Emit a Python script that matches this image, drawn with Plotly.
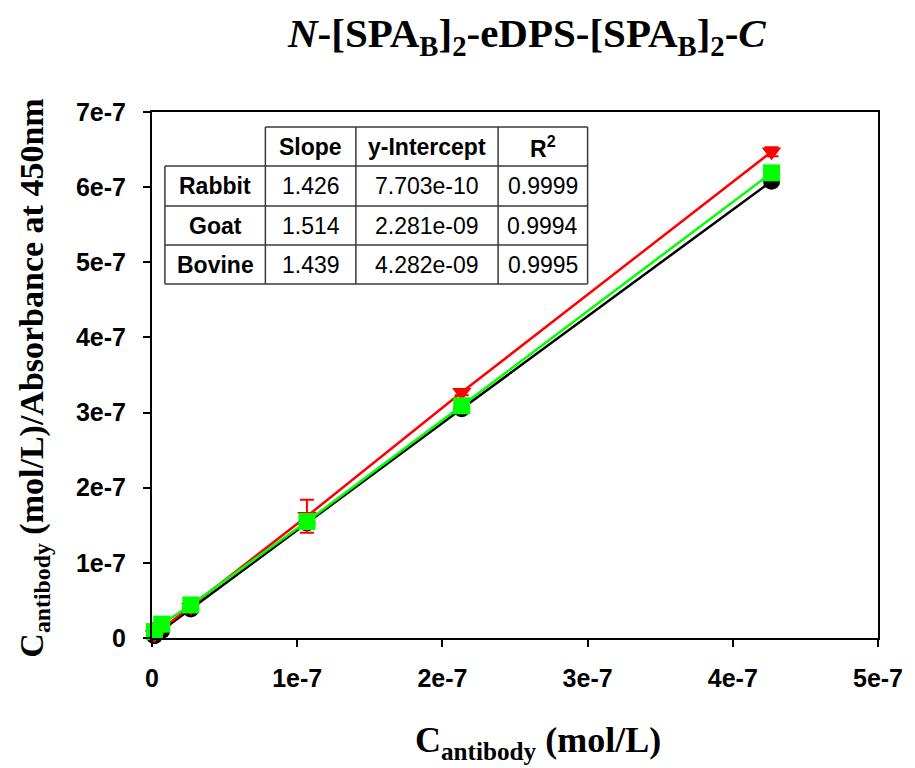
import plotly.graph_objects as go

# ---------------- data ----------------
conc = [1.67e-9, 6.67e-9, 2.67e-8, 1.067e-7, 2.133e-7, 4.267e-7]
rabbit = [3.0e-9, 1.0e-8, 3.85e-8, 1.53e-7, 3.05e-7, 6.08e-7]
goat = [4.5e-9, 1.2e-8, 4.1e-8, 1.62e-7, 3.27e-7, 6.47e-7]
goat_err = [1.5e-8, 3e-9, 3e-9, 2.2e-8, 4e-9, 6e-9]
bovine = [8.5e-9, 1.85e-8, 4.4e-8, 1.55e-7, 3.09e-7, 6.19e-7]

x_ticks = [0, 1e-7, 2e-7, 3e-7, 4e-7, 5e-7]
x_ticktext = ["0", "1e-7", "2e-7", "3e-7", "4e-7", "5e-7"]
y_ticks = [0, 1e-7, 2e-7, 3e-7, 4e-7, 5e-7, 6e-7, 7e-7]
y_ticktext = ["0", "1e-7", "2e-7", "3e-7", "4e-7", "5e-7", "6e-7", "7e-7"]

table_header = ["Slope", "y-Intercept", "R<sup>2</sup>"]
table_rows = ["Rabbit", "Goat", "Bovine"]
slopes = ["1.426", "1.514", "1.439"]
intercepts = ["7.703e-10", "2.281e-09", "4.282e-09"]
r_squared = ["0.9999", "0.9994", "0.9995"]

# ---------------- layout geometry (reference pixel coords) ----------------
OFF = 8  # page body margin
W, H = 915 - OFF, 768 - OFF
L, R, T, B = 152, 882, 112, 638


def px(x):
    return (x - L) / (R - L)


def py(y):
    return (B - y) / (B - T)


fig = go.Figure()

fig.add_trace(go.Scatter(
    x=conc, y=rabbit, mode="lines+markers", name="Rabbit",
    line=dict(color="#000000", width=2.5),
    marker=dict(symbol="circle", size=17, color="#000000"),
    cliponaxis=False,
))
fig.add_trace(go.Scatter(
    x=conc, y=goat, mode="lines+markers", name="Goat",
    line=dict(color="#FF0000", width=2.5),
    marker=dict(symbol="triangle-down", size=17, color="#FF0000"),
    error_y=dict(type="data", array=goat_err, visible=True,
                 color="#FF0000", thickness=2, width=7),
    cliponaxis=False,
))
fig.add_trace(go.Scatter(
    x=conc, y=bovine, mode="lines+markers", name="Bovine",
    line=dict(color="#00FF00", width=2.5),
    marker=dict(symbol="square", size=17, color="#00FF00"),
    cliponaxis=False,
))

# ---------------- table ----------------
col_edges = [165, 266, 357, 500, 590]
row_edges = [127, 166, 206, 245, 284]
line_style = dict(color="#3a3a3a", width=1.5)
shapes = []
shapes.append(dict(type="line", xref="paper", yref="paper",
                   x0=px(col_edges[1]), x1=px(col_edges[-1]),
                   y0=py(row_edges[0]), y1=py(row_edges[0]), line=line_style))
for ry in row_edges[1:]:
    shapes.append(dict(type="line", xref="paper", yref="paper",
                       x0=px(col_edges[0]), x1=px(col_edges[-1]),
                       y0=py(ry), y1=py(ry), line=line_style))
shapes.append(dict(type="line", xref="paper", yref="paper",
                   x0=px(col_edges[0]), x1=px(col_edges[0]),
                   y0=py(row_edges[1]), y1=py(row_edges[-1]), line=line_style))
for cx in col_edges[1:]:
    shapes.append(dict(type="line", xref="paper", yref="paper",
                       x0=px(cx), x1=px(cx),
                       y0=py(row_edges[0]), y1=py(row_edges[-1]), line=line_style))

annotations = []
tfont = dict(family="Liberation Sans, Arial, sans-serif", size=23, color="#000000")


def cell(text, ci, ri, bold=False):
    xc = (col_edges[ci] + col_edges[ci + 1]) / 2
    yc = (row_edges[ri] + row_edges[ri + 1]) / 2
    annotations.append(dict(
        x=px(xc), y=py(yc), xref="paper", yref="paper",
        text=f"<b>{text}</b>" if bold else text,
        showarrow=False, xanchor="center", yanchor="middle", font=tfont))


for i, h in enumerate(table_header):
    cell(h, i + 1, 0, bold=True)
for j, name in enumerate(table_rows):
    cell(name, 0, j + 1, bold=True)
    cell(slopes[j], 1, j + 1)
    cell(intercepts[j], 2, j + 1)
    cell(r_squared[j], 3, j + 1)

# ---------------- titles ----------------
serif = "Liberation Serif, Times New Roman, serif"
annotations.append(dict(
    x=px(529), y=py(36), xref="paper", yref="paper", showarrow=False,
    xanchor="center", yanchor="middle",
    text="<b><i>N</i>-[SPA<sub>B</sub>]<sub>2</sub>-eDPS-[SPA<sub>B</sub>]<sub>2</sub>-<i>C</i></b>",
    font=dict(family=serif, size=41, color="#000000")))
annotations.append(dict(
    x=px(540), y=py(742), xref="paper", yref="paper", showarrow=False,
    xanchor="center", yanchor="middle",
    text="<b>C<sub>antibody</sub> (mol/L)</b>",
    font=dict(family=serif, size=36, color="#000000")))
annotations.append(dict(
    x=px(33), y=py(378), xref="paper", yref="paper", showarrow=False,
    xanchor="center", yanchor="middle", textangle=-90,
    text="<b>C<sub>antibody</sub> (mol/L)/Absorbance at 450nm</b>",
    font=dict(family=serif, size=34, color="#000000")))

axis_common = dict(
    showline=True, linecolor="#000000", linewidth=2, mirror=True,
    ticks="outside", ticklen=7, tickwidth=2, tickcolor="#000000",
    showgrid=False, zeroline=False,
    tickfont=dict(family="Liberation Sans, Arial, sans-serif", size=25,
                  color="#000000", weight="bold"),
)

fig.update_layout(
    width=W, height=H,
    margin=dict(l=L - OFF, r=W - (R - OFF), t=T - OFF, b=H - (B - OFF)),
    paper_bgcolor="white", plot_bgcolor="white",
    showlegend=False,
    xaxis=dict(range=[0, 5e-7], tickvals=x_ticks, ticktext=x_ticktext,
               ticklabelstandoff=10, **axis_common),
    yaxis=dict(range=[0, 7e-7], tickvals=y_ticks, ticktext=y_ticktext,
               ticklabelstandoff=12, **axis_common),
    shapes=shapes,
    annotations=annotations,
)

fig.write_html("out.html")
